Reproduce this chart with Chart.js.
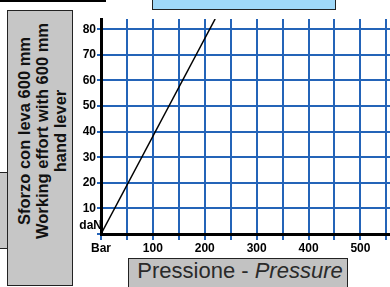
<!DOCTYPE html>
<html>
<head>
<meta charset="utf-8">
<script src="https://cdn.jsdelivr.net/npm/chart.js@4.4.0/dist/chart.umd.min.js"></script>
<style>
  html, body { margin: 0; padding: 0; background: #fff; }
  #wrap { position: relative; width: 390px; height: 287px; overflow: hidden; font-family: "Liberation Sans", Arial, sans-serif; }
  #chart { position: absolute; left: 0; top: 0; }
  .box { position: absolute; box-sizing: border-box; border: 1.5px solid #222; }
  #topbox { left: 152px; top: -2px; width: 184px; height: 12px; background: #9fd8f8; }
  #topbar { left: 0; top: 0; width: 106px; height: 2px; background: #000; border: none; }
  #sidebox { left: 7px; top: 10px; width: 66px; height: 276px; background: #c6c6c6; }
  #tinybox { left: -2px; top: 172px; width: 10px; height: 77px; background: #c6c6c6; }
  #ylabel { position: absolute; left: 42px; top: 131px; transform: translate(-50%, -50%) rotate(-90deg);
    white-space: nowrap; text-align: center; font-family: "Liberation Sans", Arial, sans-serif;
    font-weight: bold; font-size: 16.5px; line-height: 18px; color: #111; }
  #xbox { left: 128px; top: 258px; width: 220px; height: 34px; background: #c2c2c2; }
  #xlabel { position: absolute; left: 240px; top: 271px; transform: translate(-50%, -50%);
    white-space: nowrap; font-family: "Liberation Sans", Arial, sans-serif; font-size: 22px; color: #2a2a2a; }
</style>
</head>
<body>
<div id="wrap">
  <div class="box" id="topbar"></div>
  <div class="box" id="topbox"></div>
  <div class="box" id="tinybox"></div>
  <div class="box" id="sidebox"></div>
  <div id="ylabel">Sforzo con leva 600 mm<br>Working effort with 600 mm<br>hand lever</div>
  <div class="box" id="xbox"></div>
  <div id="xlabel">Pressione - <i>Pressure</i></div>
  <canvas id="chart" width="390" height="287"></canvas>
</div>
<script>
// pressure (bar) vs working effort (daN)
const pressure = [0, 220];
const effort = [0, 84];
const xTicks = [0, 50, 100, 150, 200, 250, 300, 350, 400, 450, 500, 550];
const yTicks = [0, 10, 20, 30, 40, 50, 60, 70, 80];
const xUnit = 'Bar';
const yUnit = 'daN';

const gridBlue = '#2464b8';
const tickFont = { family: '"Liberation Sans", Arial, sans-serif', size: 12, weight: 'bold' };

const unitLabel = {
  id: 'unitLabel',
  afterDraw(chart) {
    const ctx = chart.ctx;
    const y = chart.scales.y;
    ctx.save();
    ctx.font = 'bold 12px "Liberation Sans", Arial, sans-serif';
    ctx.fillStyle = '#000';
    ctx.textAlign = 'right';
    ctx.textBaseline = 'middle';
    ctx.fillText(yUnit, 102, y.getPixelForValue(0) - 8);
    ctx.restore();
  }
};

new Chart(document.getElementById('chart'), {
  type: 'scatter',
  data: {
    datasets: [{
      data: pressure.map((p, i) => ({ x: p, y: effort[i] })),
      showLine: true,
      borderColor: '#000',
      borderWidth: 1.5,
      pointRadius: 0
    }]
  },
  options: {
    responsive: false,
    animation: false,
    layout: { padding: { top: 19, left: 0, right: 0, bottom: 0 } },
    plugins: { legend: { display: false }, tooltip: { enabled: false } },
    scales: {
      x: {
        type: 'linear',
        min: 0,
        max: 557,
        afterBuildTicks: s => { s.ticks = xTicks.map(v => ({ value: v })); },
        afterFit: s => { s.height = 53; },
        grid: { color: gridBlue, lineWidth: 2, tickLength: 6, tickColor: gridBlue },
        border: { color: '#000', width: 3 },
        ticks: {
          autoSkip: false,
          maxRotation: 0,
          padding: 1,
          color: '#000',
          font: tickFont,
          callback: v => v === 0 ? xUnit : (v % 100 === 0 ? v : '')
        }
      },
      y: {
        min: 0,
        max: 84,
        afterBuildTicks: s => { s.ticks = yTicks.map(v => ({ value: v })); },
        afterFit: s => { s.width = 101; },
        grid: { color: gridBlue, lineWidth: 2, tickLength: 4, tickColor: gridBlue },
        border: { color: '#000', width: 3 },
        ticks: {
          padding: 1,
          color: '#000',
          font: tickFont,
          callback: v => v === 0 ? '' : v
        }
      }
    }
  },
  plugins: [unitLabel]
});
</script>
</body>
</html>
